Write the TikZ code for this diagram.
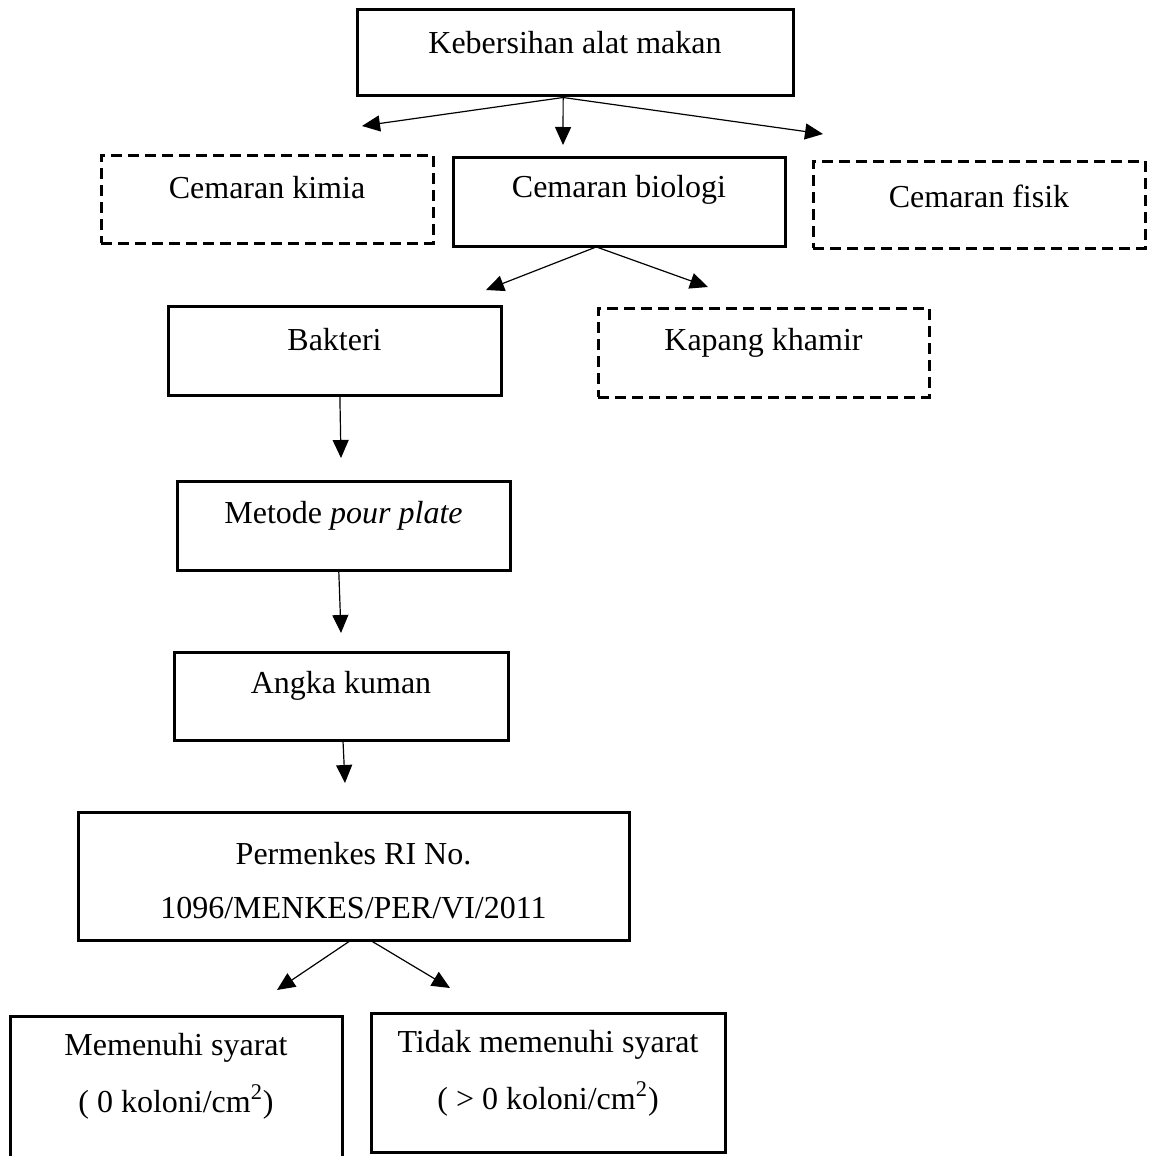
\documentclass[tikz,border=0pt]{standalone}
\usepackage{fontspec}
\setmainfont{Liberation Serif}
\usetikzlibrary{arrows.meta,calc}
\begin{document}
\begin{tikzpicture}[x=0.5pt,y=-0.5pt,
  solidbox/.style={draw,rectangle,line width=1.5pt,inner sep=0pt},
  dashbox/.style={solidbox,dash pattern=on 5.5pt off 3pt},
  lbl/.style={inner sep=0pt,font=\fontsize{16pt}{19pt}\selectfont,anchor=center},
  conn/.style={line width=0.6pt,-{Triangle[length=9pt,width=8pt]}}]
\useasboundingbox (0,0) rectangle (1150,1156);
\clip (0,0) rectangle (1150,1156);
% boxes
\node[solidbox,minimum width=218pt,minimum height=43pt] (keb) at (575,53) {};
\node[dashbox,minimum width=166pt,minimum height=44pt] (kimia) at (267,199) {};
\node[solidbox,minimum width=166pt,minimum height=44.5pt] (bio) at (619,201.5) {};
\node[dashbox,minimum width=166pt,minimum height=43.5pt] (fisik) at (979,204.5) {};
\node[solidbox,minimum width=166.5pt,minimum height=44.5pt] (bak) at (334.5,350.5) {};
\node[dashbox,minimum width=165.5pt,minimum height=44.5pt] (kap) at (763.5,352.5) {};
\node[solidbox,minimum width=166.5pt,minimum height=44.5pt] (met) at (343.5,525.5) {};
\node[solidbox,minimum width=167pt,minimum height=44pt] (ang) at (341,696) {};
\node[solidbox,minimum width=275.5pt,minimum height=64pt] (perm) at (353.5,876) {};
\node[solidbox,minimum width=166pt,minimum height=82pt] (mem) at (176,1098) {};
\node[solidbox,minimum width=177pt,minimum height=69.5pt] (tid) at (548,1082.5) {};
% texts
\node[lbl] (tkeb) at (575,43) {Kebersihan alat makan};
\node[lbl] (tkimia) at (267,188) {Cemaran kimia};
\node[lbl] (tbio) at (619,190) {Cemaran biologi};
\node[lbl] (tfisik) at (979,196) {Cemaran fisik};
\node[lbl] (tbak) at (334.5,340) {Bakteri};
\node[lbl] (tkap) at (763.5,343) {Kapang khamir};
\node[lbl] (tmet) at (343.5,516) {Metode \textit{pour plate}};
\node[lbl] (tang) at (341,686) {Angka kuman};
\node[lbl] (tperm1) at (353.5,854) {Permenkes RI No.};
\node[lbl] (tperm2) at (353.5,908) {1096/MENKES/PER/VI/2011};
\node[lbl] (tmem1) at (176,1048) {Memenuhi syarat};
\node[lbl] (tmem2) at (176,1102) {( 0 koloni/cm\textsuperscript{2})};
\node[lbl] (ttid1) at (548,1045) {Tidak memenuhi syarat};
\node[lbl] (ttid2) at (548,1099) {( > 0 koloni/cm\textsuperscript{2})};
% arrow tips
\coordinate (c1) at (362,126);
\coordinate (c2) at (563,145);
\coordinate (c3) at (823,134);
\coordinate (c4) at (486,290);
\coordinate (c5) at (708,287);
\coordinate (c6) at (341,458);
\coordinate (c7) at (341,633);
\coordinate (c8) at (345,783);
\coordinate (c9) at (277,990);
\coordinate (c10) at (450,988);
% connectors
\draw[conn] ($(keb.south west)!0.473!(keb.south east)$) -- (c1);
\draw[conn] ($(keb.south west)!0.473!(keb.south east)$) -- (c2);
\draw[conn] ($(keb.south west)!0.473!(keb.south east)$) -- (c3);
\draw[conn] ($(bio.south west)!0.428!(bio.south east)$) -- (c4);
\draw[conn] ($(bio.south west)!0.437!(bio.south east)$) -- (c5);
\draw[conn] ($(bak.south west)!0.516!(bak.south east)$) -- (c6);
\draw[conn] ($(met.south west)!0.486!(met.south east)$) -- (c7);
\draw[conn] ($(ang.south west)!0.506!(ang.south east)$) -- (c8);
\draw[conn] ($(perm.south west)!0.492!(perm.south east)$) -- (c9);
\draw[conn] ($(perm.south west)!0.534!(perm.south east)$) -- (c10);
\end{tikzpicture}
\end{document}
